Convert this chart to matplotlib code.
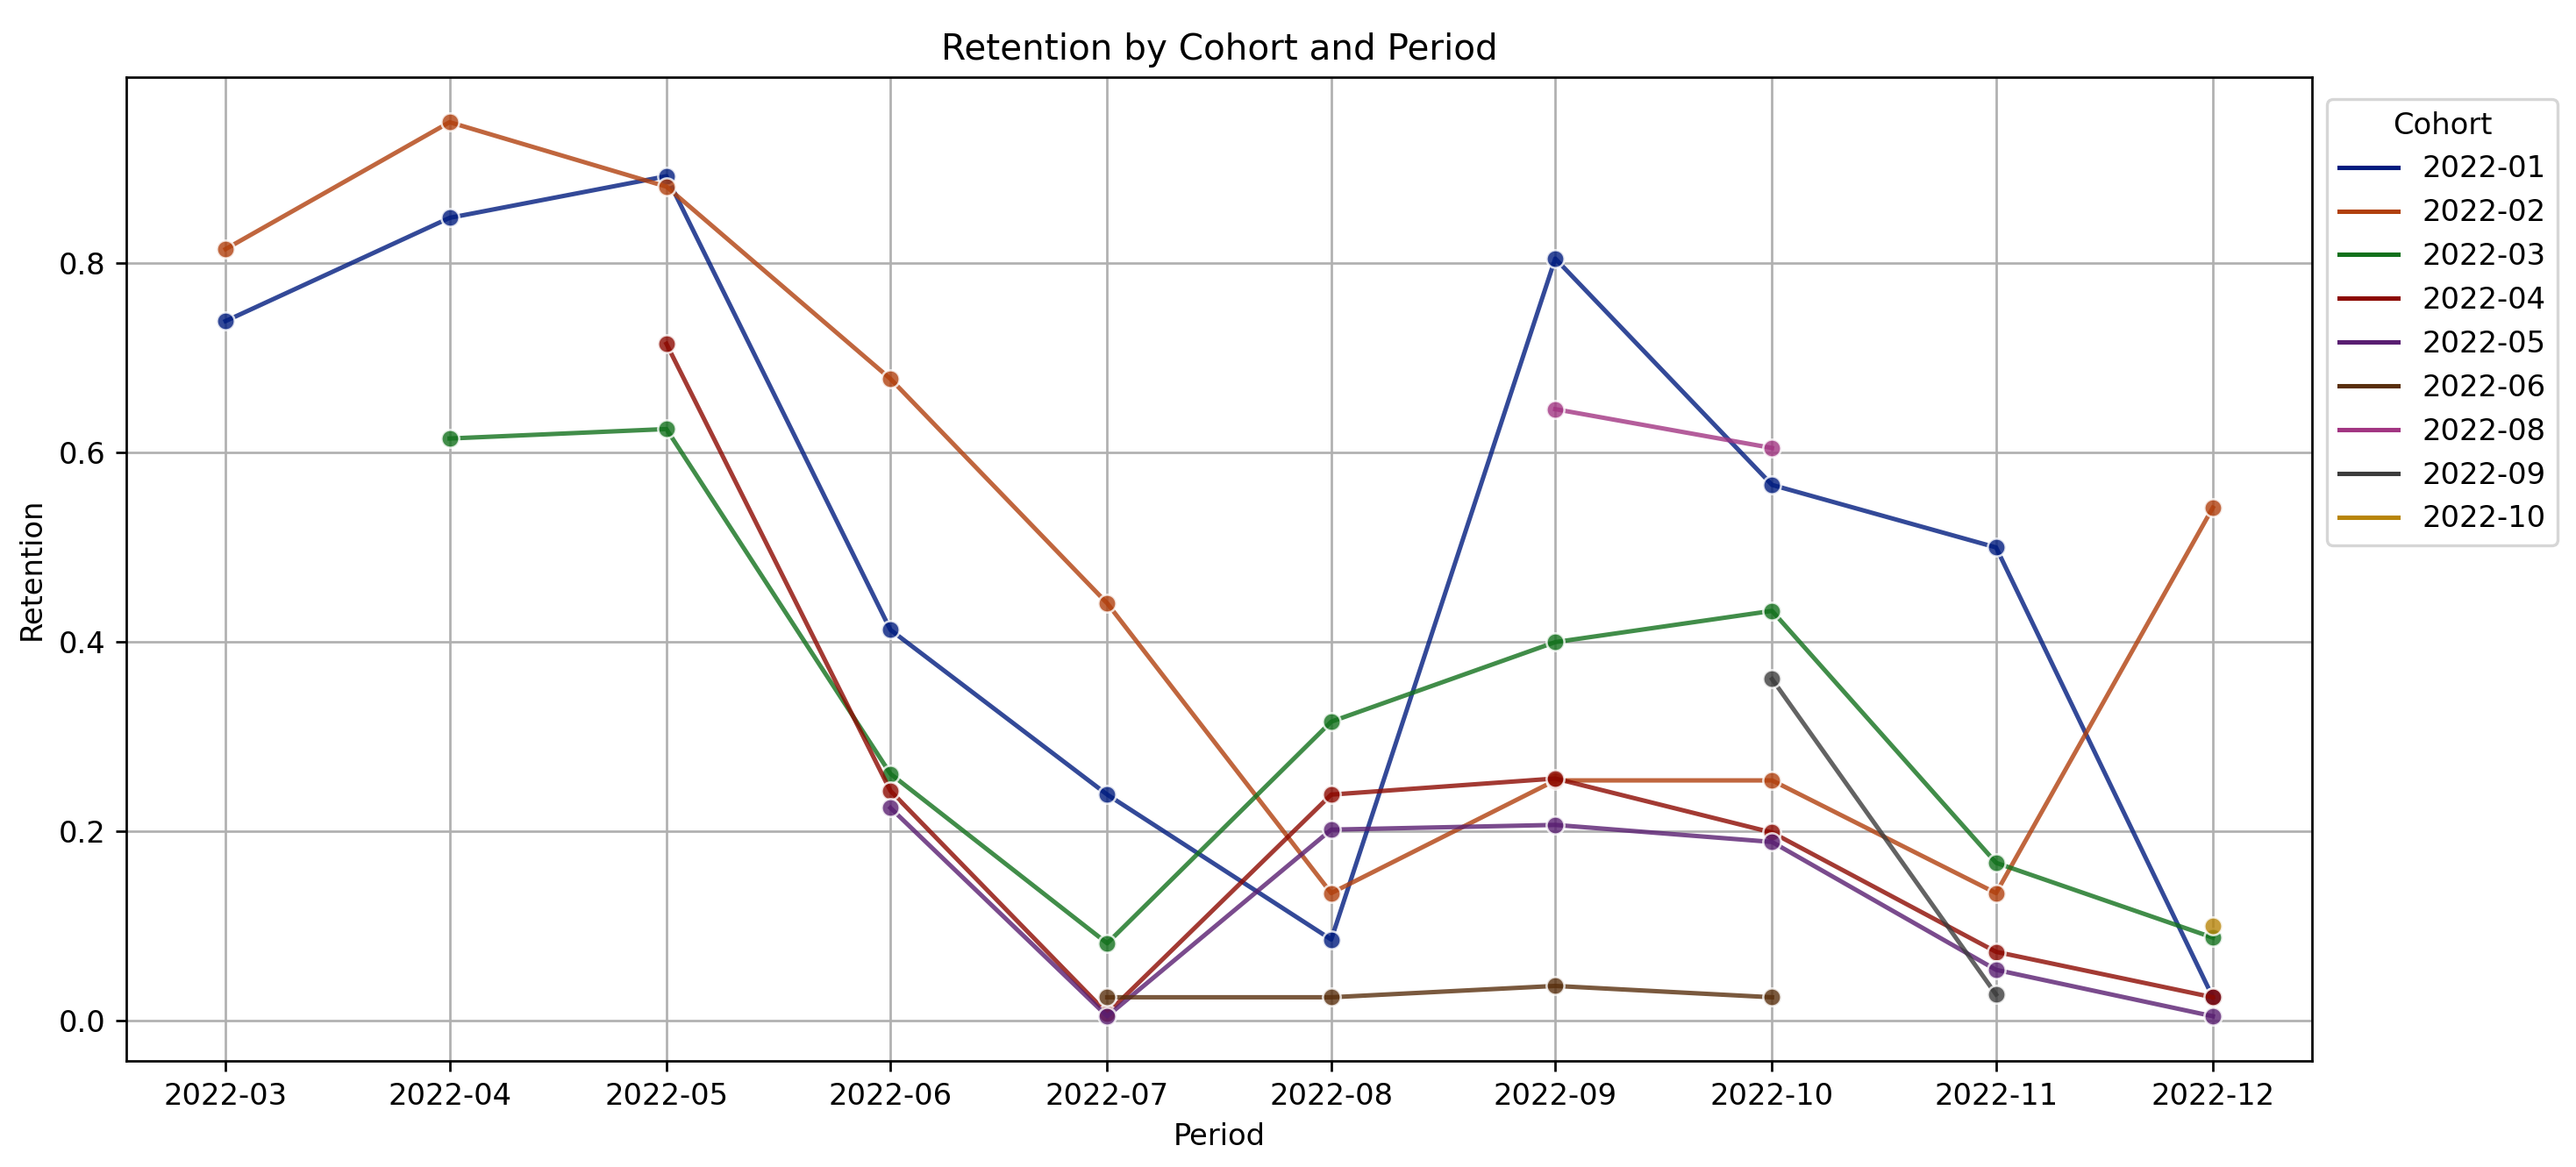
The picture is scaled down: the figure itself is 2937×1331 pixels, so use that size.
import matplotlib
matplotlib.use("Agg")
import matplotlib.pyplot as plt
import matplotlib.dates as mdates
from matplotlib.lines import Line2D
import numpy as np
import pandas as pd

# periods on the x axis
periods = ['2022-03', '2022-04', '2022-05', '2022-06', '2022-07',
           '2022-08', '2022-09', '2022-10', '2022-11', '2022-12']

cohorts = ['2022-01', '2022-02', '2022-03', '2022-04', '2022-05',
           '2022-06', '2022-08', '2022-09', '2022-10']

# retention per cohort, None where the cohort has no value
ret_2022_01 = [0.739, 0.848, 0.892, 0.413, 0.239, 0.086, 0.805, 0.566, 0.500, 0.025]
ret_2022_02 = [0.815, 0.949, 0.881, 0.678, 0.441, 0.135, 0.254, 0.254, 0.135, 0.542]
ret_2022_03 = [None, 0.615, 0.625, 0.261, 0.082, 0.316, 0.400, 0.433, 0.167, 0.088]
ret_2022_04 = [None, None, 0.715, 0.243, 0.008, 0.239, 0.256, 0.199, 0.073, 0.025]
ret_2022_05 = [None, None, None, 0.225, 0.005, 0.202, 0.207, 0.189, 0.054, 0.005]
ret_2022_06 = [None, None, None, None, 0.025, 0.025, 0.037, 0.025, None, None]
ret_2022_08 = [None, None, None, None, None, None, 0.646, 0.605, None, None]
ret_2022_09 = [None, None, None, None, None, None, None, 0.361, 0.028, None]
ret_2022_10 = [None, None, None, None, None, None, None, None, None, 0.100]

retention = [ret_2022_01, ret_2022_02, ret_2022_03, ret_2022_04, ret_2022_05,
             ret_2022_06, ret_2022_08, ret_2022_09, ret_2022_10]

# seaborn "dark" palette
colors = ['#001c7f', '#b1400d', '#12711c', '#8c0800', '#591e71',
          '#592f0d', '#a23582', '#3c3c3c', '#b8850a']

dates = pd.to_datetime(periods)

fig = plt.figure(figsize=(2937 / 243, 1331 / 243), dpi=243)
ax = fig.add_axes([0.049, 0.0909, 0.8486, 0.8427])

for cohort, vals, col in zip(cohorts, retention, colors):
    x = [d for d, v in zip(dates, vals) if v is not None]
    y = [v for v in vals if v is not None]
    ax.plot(x, y, color=col, alpha=0.8, lw=1.5, marker='o', ms=6,
            mec='w', mew=0.75, label=cohort)

ax.xaxis.set_major_locator(mdates.MonthLocator())
ax.xaxis.set_major_formatter(mdates.DateFormatter('%Y-%m'))
ax.grid(True)
ax.set_title('Retention by Cohort and Period')
ax.set_xlabel('Period')
ax.set_ylabel('Retention')

handles = [Line2D([], [], color=c, lw=1.5) for c in colors]
ax.legend(handles, cohorts, title='Cohort', loc='upper left',
          bbox_to_anchor=(1.0, 0.993))

fig.savefig('out.png', dpi=243)
